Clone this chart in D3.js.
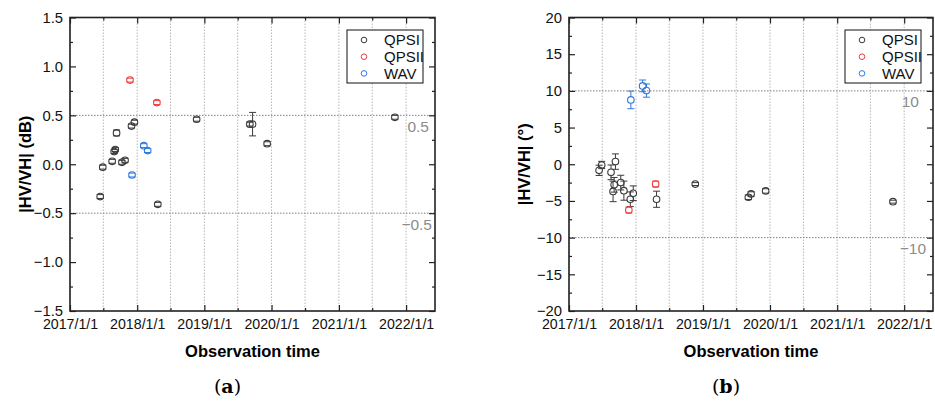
<!DOCTYPE html>
<html>
<head>
<meta charset="utf-8">
<script src="https://cdn.jsdelivr.net/npm/d3@7"></script>
<style>
  body { margin: 0; background: #fff; }
  text { font-family: "Liberation Sans", Arial, sans-serif; }
</style>
</head>
<body>
<div id="chartCont"></div>
<script>
// observation dates (QPSI has the same dates in both panels)
let qpsiDates = ["2017-06-14", "2017-06-28", "2017-08-18", "2017-08-29", "2017-09-04", "2017-09-11",
  "2017-10-10", "2017-10-27", "2017-12-01", "2017-12-17", "2018-04-23", "2018-11-20",
  "2019-09-05", "2019-09-20", "2019-12-08", "2021-11-01"];
let qpsiiDates = ["2017-11-23", "2018-04-18"];
let wavDates = ["2017-12-04", "2018-02-06", "2018-02-27"];

// panel (a): amplitude ratio, dB
let qpsiAmp = [-0.33, -0.03, 0.03, 0.13, 0.15, 0.32, 0.02, 0.04, 0.39, 0.43, -0.41, 0.46, 0.41, 0.41, 0.21, 0.48];
let qpsiAmpErr = [0.02, 0.02, 0.02, 0.02, 0.02, 0.03, 0.02, 0.02, 0.02, 0.02, 0.02, 0.02, 0.02, 0.12, 0.02, 0.02];
let qpsiiAmp = [0.86, 0.63];
let qpsiiAmpErr = [0.02, 0.02];
let wavAmp = [-0.11, 0.19, 0.14];
let wavAmpErr = [0.02, 0.02, 0.02];

// panel (b): phase difference, degrees
let qpsiPhase = [-0.83, -0.1, -1.1, -3.7, -2.8, 0.36, -2.5, -3.6, -4.77, -3.95, -4.77, -2.7, -4.5, -4.05, -3.64, -5.1];
let qpsiPhaseErr = [0.7, 0.5, 1.0, 1.4, 1.0, 1.05, 1.0, 1.3, 1.0, 1.0, 1.1, 0.2, 0.3, 0.3, 0.3, 0.2];
let qpsiiPhase = [-6.24, -2.7];
let qpsiiPhaseErr = [0.4, 0.4];
let wavPhase = [8.77, 10.68, 10.04];
let wavPhaseErr = [1.2, 0.8, 0.9];

// ticks
let yearTicks = ["2017-01-01", "2018-01-01", "2019-01-01", "2020-01-01", "2021-01-01", "2022-01-01"];
let halfYearTicks = ["2017-07-01", "2018-07-01", "2019-07-01", "2020-07-01", "2021-07-01"];
let ampTicks = [-1.5, -1.0, -0.5, 0, 0.5, 1.0, 1.5];
let ampMinor = [-1.25, -0.75, -0.25, 0.25, 0.75, 1.25];
let phaseTicks = [-20, -15, -10, -5, 0, 5, 10, 15, 20];
let phaseMinor = [-17.5, -12.5, -7.5, -2.5, 2.5, 7.5, 12.5, 17.5];
let ampRefLines = [0.5, -0.5];
let phaseRefLines = [10, -10];

let parse = d3.utcParse("%Y-%m-%d");
let tickFmt = d3.utcFormat("%Y/%-m/%-d");
let timeDomain = [parse("2017-01-01"), parse("2022-06-07")];

let width = 935,
  height = 403,
  plotTop = 17.5,
  plotBottom = 311;

let svg = d3.select("#chartCont")
  .append("svg")
  .attr("width", width)
  .attr("height", height);

function drawPanel(p) {
  let g = svg.append("g");
  let x = d3.scaleUtc().domain(timeDomain).range([p.left, p.right]);
  let y = d3.scaleLinear().domain([p.yTicks[0], p.yTicks[p.yTicks.length - 1]]).range([plotBottom, plotTop]);

  // dotted grid every half year
  let gridDates = yearTicks.concat(halfYearTicks).map(parse);
  g.selectAll(".vgrid")
    .data(gridDates)
    .enter().append("line")
    .attr("class", "vgrid")
    .attr("x1", function(d) { return x(d); })
    .attr("x2", function(d) { return x(d); })
    .attr("y1", plotTop)
    .attr("y2", plotBottom)
    .attr("stroke", "#b8b8b8")
    .attr("stroke-dasharray", "1.5,1.5");

  g.selectAll(".hgrid")
    .data(p.refLines)
    .enter().append("line")
    .attr("class", "hgrid")
    .attr("x1", p.left)
    .attr("x2", p.right)
    .attr("y1", function(d) { return y(d); })
    .attr("y2", function(d) { return y(d); })
    .attr("stroke", "#808080")
    .attr("stroke-dasharray", "1.5,1.5");

  // gray labels under the reference lines
  g.selectAll(".reflabel")
    .data(p.refLines)
    .enter().append("text")
    .attr("class", "reflabel")
    .attr("x", function(d) { return d > 0 ? p.right - p.refPad[0] : p.right - p.refPad[1]; })
    .attr("y", function(d) { return y(d) + 16.5; })
    .attr("text-anchor", "end")
    .attr("fill", "#8c8c8c")
    .style("font-size", "15.5px")
    .text(function(d) { return p.refFmt(d); });

  // axes, ticks point inward
  let yearDates = yearTicks.map(parse);
  let halfDates = halfYearTicks.map(parse);

  let xb = g.append("g").attr("transform", "translate(0," + plotBottom + ")")
    .call(d3.axisBottom(x).tickValues(yearDates).tickFormat(tickFmt).tickSize(-6).tickPadding(8));
  g.append("g").attr("transform", "translate(0," + plotBottom + ")")
    .call(d3.axisBottom(x).tickValues(halfDates).tickFormat("").tickSize(-3));
  g.append("g").attr("transform", "translate(0," + plotTop + ")")
    .call(d3.axisTop(x).tickValues(yearDates).tickFormat("").tickSize(-6));
  g.append("g").attr("transform", "translate(0," + plotTop + ")")
    .call(d3.axisTop(x).tickValues(halfDates).tickFormat("").tickSize(-3));

  let yl = g.append("g").attr("transform", "translate(" + p.left + ",0)")
    .call(d3.axisLeft(y).tickValues(p.yTicks).tickFormat(p.tickFmt).tickSize(-6).tickPadding(7));
  g.append("g").attr("transform", "translate(" + p.left + ",0)")
    .call(d3.axisLeft(y).tickValues(p.yMinor).tickFormat("").tickSize(-3));
  g.append("g").attr("transform", "translate(" + p.right + ",0)")
    .call(d3.axisRight(y).tickValues(p.yTicks).tickFormat("").tickSize(-6));
  g.append("g").attr("transform", "translate(" + p.right + ",0)")
    .call(d3.axisRight(y).tickValues(p.yMinor).tickFormat("").tickSize(-3));

  g.selectAll(".domain").remove();
  g.selectAll(".tick line").attr("stroke", "#222").attr("stroke-width", 1.2);
  xb.selectAll("text").style("font-size", "14.2px").attr("fill", "#111");
  yl.selectAll("text").style("font-size", "14.8px").attr("fill", "#111");

  // frame
  g.append("rect")
    .attr("x", p.left)
    .attr("y", plotTop)
    .attr("width", p.right - p.left)
    .attr("height", plotBottom - plotTop)
    .attr("fill", "none")
    .attr("stroke", "#222")
    .attr("stroke-width", 1.6);

  // points with error bars
  p.series.forEach(function(s) {
    let pts = s.dates.map(function(d, i) {
      return { date: parse(d), v: s.vals[i], e: s.errs[i] };
    });
    let r = 3.3;
    let sg = g.append("g");
    let bars = sg.selectAll(".bar")
      .data(pts)
      .enter().append("g")
      .attr("stroke", s.color)
      .attr("stroke-width", 1);
    // vertical line only outside the marker
    bars.append("line")
      .attr("x1", function(d) { return x(d.date); })
      .attr("x2", function(d) { return x(d.date); })
      .attr("y1", function(d) { return y(d.v + d.e); })
      .attr("y2", function(d) { return Math.max(y(d.v + d.e), y(d.v) - r); });
    bars.append("line")
      .attr("x1", function(d) { return x(d.date); })
      .attr("x2", function(d) { return x(d.date); })
      .attr("y1", function(d) { return y(d.v - d.e); })
      .attr("y2", function(d) { return Math.min(y(d.v - d.e), y(d.v) + r); });
    // caps
    [1, -1].forEach(function(sign) {
      bars.append("line")
        .attr("x1", function(d) { return x(d.date) - 3.5; })
        .attr("x2", function(d) { return x(d.date) + 3.5; })
        .attr("y1", function(d) { return y(d.v + sign * d.e); })
        .attr("y2", function(d) { return y(d.v + sign * d.e); });
    });
    sg.selectAll("circle")
      .data(pts)
      .enter().append("circle")
      .attr("cx", function(d) { return x(d.date); })
      .attr("cy", function(d) { return y(d.v); })
      .attr("r", r)
      .attr("fill", "none")
      .attr("stroke", s.color)
      .attr("stroke-width", 1.1);
  });

  // legend
  let lx = p.right - 88,
    ly = 30;
  g.append("rect")
    .attr("x", lx)
    .attr("y", ly)
    .attr("width", 76)
    .attr("height", 53)
    .attr("fill", "#fff")
    .attr("stroke", "#111")
    .attr("stroke-width", 1);
  let items = g.selectAll(".legend")
    .data(p.series)
    .enter().append("g")
    .attr("transform", function(d, i) { return "translate(" + lx + "," + (ly + 10 + i * 16.7) + ")"; });
  items.append("circle")
    .attr("cx", 17)
    .attr("cy", 0)
    .attr("r", 2.8)
    .attr("fill", "none")
    .attr("stroke", function(d) { return d.color; })
    .attr("stroke-width", 1);
  items.append("text")
    .attr("x", 37)
    .attr("y", 5.3)
    .style("font-size", "15px")
    .attr("fill", "#111")
    .text(function(d) { return d.name; });

  // titles
  let cx = (p.left + p.right) / 2;
  g.append("text")
    .attr("transform", "translate(" + (p.left - 39.5) + "," + ((plotTop + plotBottom) / 2) + ") rotate(-90)")
    .attr("text-anchor", "middle")
    .style("font-size", "16.5px")
    .style("font-weight", "bold")
    .text(p.yLabel);
  g.append("text")
    .attr("x", cx)
    .attr("y", 357)
    .attr("text-anchor", "middle")
    .style("font-size", "16.5px")
    .style("font-weight", "bold")
    .text("Observation time");
  let cap = g.append("text")
    .attr("x", cx - 25)
    .attr("y", 393)
    .attr("text-anchor", "middle")
    .style("font-family", "'DejaVu Serif', 'Liberation Serif', serif")
    .style("font-size", "19px");
  cap.append("tspan").text("(");
  cap.append("tspan").style("font-weight", "bold").text(p.letter);
  cap.append("tspan").text(")");
}

let colors = { qpsi: "#3a3a3a", qpsii: "#ee3b3b", wav: "#2c78e0" };

drawPanel({
  left: 70,
  right: 435,
  yTicks: ampTicks,
  yMinor: ampMinor,
  tickFmt: d3.format(".1f"),
  refLines: ampRefLines,
  refFmt: d3.format(".1f"),
  refPad: [6, 3],
  yLabel: "|HV/VH| (dB)",
  letter: "a",
  series: [
    { name: "QPSI", color: colors.qpsi, dates: qpsiDates, vals: qpsiAmp, errs: qpsiAmpErr },
    { name: "QPSII", color: colors.qpsii, dates: qpsiiDates, vals: qpsiiAmp, errs: qpsiiAmpErr },
    { name: "WAV", color: colors.wav, dates: wavDates, vals: wavAmp, errs: wavAmpErr }
  ]
});

drawPanel({
  left: 569,
  right: 933,
  yTicks: phaseTicks,
  yMinor: phaseMinor,
  tickFmt: d3.format("d"),
  refLines: phaseRefLines,
  refFmt: d3.format("d"),
  refPad: [14, 7],
  yLabel: "|HV/VH| (°)",
  letter: "b",
  series: [
    { name: "QPSI", color: colors.qpsi, dates: qpsiDates, vals: qpsiPhase, errs: qpsiPhaseErr },
    { name: "QPSII", color: colors.qpsii, dates: qpsiiDates, vals: qpsiiPhase, errs: qpsiiPhaseErr },
    { name: "WAV", color: colors.wav, dates: wavDates, vals: wavPhase, errs: wavPhaseErr }
  ]
});
</script>
</body>
</html>
